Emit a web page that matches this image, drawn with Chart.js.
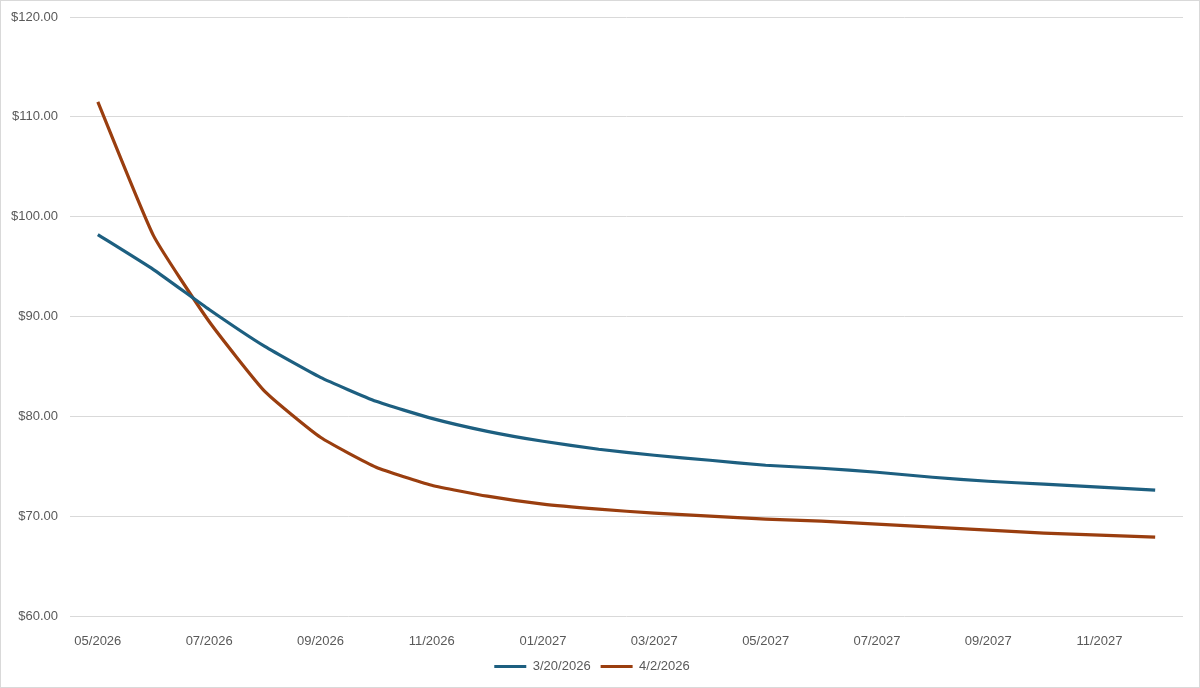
<!DOCTYPE html>
<html>
<head>
<meta charset="utf-8">
<script src="https://cdn.jsdelivr.net/npm/chart.js@4.4.1/dist/chart.umd.min.js"></script>
<style>
  html, body { margin: 0; padding: 0; background: #fff; }
  #wrap { width: 1200px; height: 688px; box-sizing: border-box; border: 1px solid #d9d9d9; }
  canvas { display: block; }
</style>
</head>
<body>
<div id="wrap"><canvas id="mycanvas" width="1198" height="686"></canvas></div>
<script>
var months = ['05/2026','06/2026','07/2026','08/2026','09/2026','10/2026','11/2026','12/2026',
              '01/2027','02/2027','03/2027','04/2027','05/2027','06/2027','07/2027','08/2027',
              '09/2027','10/2027','11/2027','12/2027'];
var seriesNames = ['3/20/2026', '4/2/2026'];
var march20 = [98.2, 94.7, 90.7, 87.0, 83.9, 81.5, 79.8, 78.5, 77.5, 76.7,
               76.1, 75.6, 75.1, 74.8, 74.4, 73.9, 73.5, 73.2, 72.9, 72.6];
var april2 = [111.5, 98.1, 89.5, 82.5, 77.9, 74.9, 73.1, 72.0, 71.2, 70.7,
              70.3, 70.0, 69.7, 69.5, 69.2, 68.9, 68.6, 68.3, 68.1, 67.9];
var yMin = 60, yMax = 120, yStep = 10;

var textColor = '#595959';
var fontFamily = '"Liberation Sans", Arial, sans-serif';

var ctx = document.getElementById('mycanvas');

var lineChart = new Chart(ctx, {
	type: 'line',
	data: {
		labels: months,
		datasets: [
			{
				label: seriesNames[0],
				data: march20,
				borderColor: '#1d5f80',
				backgroundColor: '#1d5f80',
				borderWidth: 3.2,
				pointRadius: 0,
				tension: 0.15
			},
			{
				label: seriesNames[1],
				data: april2,
				borderColor: '#9a3e0f',
				backgroundColor: '#9a3e0f',
				borderWidth: 3.2,
				pointRadius: 0,
				tension: 0.15
			}
		]
	},
	options: {
		responsive: false,
		animation: false,
		layout: { padding: { top: 16, right: 16, bottom: 4, left: 0 } },
		plugins: {
			legend: {
				position: 'bottom',
				labels: {
					usePointStyle: true,
					pointStyle: 'line',
					pointStyleWidth: 32,
					color: textColor,
					padding: 10,
					font: { family: fontFamily, size: 13 }
				}
			},
			tooltip: { enabled: false }
		},
		scales: {
			x: {
				offset: true,
				grid: { display: false },
				border: { display: false },
				afterFit: function(scale) { scale.height = 34; },
				ticks: {
					autoSkip: false,
					maxRotation: 0,
					padding: 10,
					color: textColor,
					font: { family: fontFamily, size: 13 },
					callback: function(value, index) {
						return index % 2 === 0 ? this.getLabelForValue(value) : '';
					}
				}
			},
			y: {
				min: yMin,
				max: yMax,
				grid: { color: '#d9d9d9', lineWidth: 1, drawTicks: false },
				border: { display: false },
				afterFit: function(scale) {
					scale.width = 69;
					scale.paddingTop = 0;
				},
				ticks: {
					stepSize: yStep,
					padding: 12,
					color: textColor,
					font: { family: fontFamily, size: 13 },
					callback: function(value) { return '$' + value.toFixed(2); }
				}
			}
		}
	}
});
</script>
</body>
</html>
